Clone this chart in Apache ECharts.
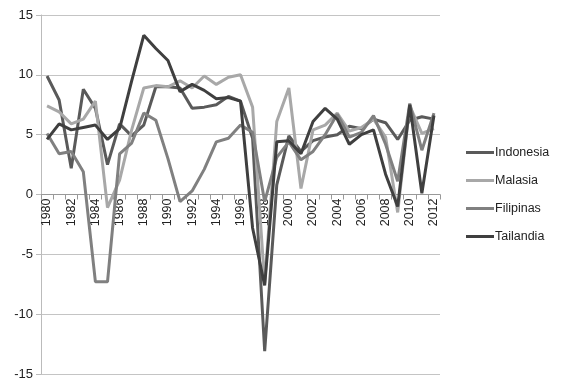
<!DOCTYPE html>
<html><head><meta charset="utf-8">
<script src="https://cdn.jsdelivr.net/npm/echarts@6/dist/echarts.min.js"></script>
<style>html,body{margin:0;padding:0;background:#fff}#c{width:571px;height:392px}</style>
</head><body><div id="c"></div>
<script>
var years = [];
for (var y = 1980; y <= 2012; y++) years.push(String(y));
var seriesNames = ['Indonesia', 'Malasia', 'Filipinas', 'Tailandia'];
var indonesia = [9.9, 7.9, 2.2, 8.8, 7.2, 2.5, 5.9, 4.9, 5.8, 9.0, 9.0, 8.9, 7.2, 7.3, 7.5, 8.2, 7.8, 4.7, -13.1, 0.8, 4.9, 3.6, 4.5, 4.8, 5.0, 5.7, 5.5, 6.3, 6.0, 4.6, 6.2, 6.5, 6.3];
var malasia = [7.4, 6.9, 5.9, 6.3, 7.8, -1.1, 1.2, 5.4, 8.9, 9.1, 9.0, 9.5, 8.9, 9.9, 9.2, 9.8, 10.0, 7.3, -7.4, 6.1, 8.9, 0.5, 5.4, 5.8, 6.8, 5.3, 5.6, 6.3, 4.8, -1.5, 7.4, 5.1, 5.5];
var filipinas = [5.1, 3.4, 3.6, 1.9, -7.3, -7.3, 3.4, 4.3, 6.8, 6.2, 3.0, -0.6, 0.3, 2.1, 4.4, 4.7, 5.8, 5.2, -0.6, 3.1, 4.4, 2.9, 3.6, 5.0, 6.7, 4.8, 5.2, 6.6, 4.2, 1.1, 7.6, 3.7, 6.8];
var tailandia = [4.6, 5.9, 5.4, 5.6, 5.8, 4.6, 5.5, 9.5, 13.3, 12.2, 11.2, 8.6, 9.2, 8.7, 8.0, 8.1, 7.8, -2.8, -7.6, 4.4, 4.5, 3.4, 6.1, 7.2, 6.3, 4.2, 5.0, 5.4, 1.7, -1.0, 7.5, 0.1, 6.6];
var colors = ['#5a5a5a', '#a8a8a8', '#808080', '#3f3f3f'];
var yTicks = {min: -15, max: 15, interval: 5};

var dataArr = [indonesia, malasia, filipinas, tailandia];
var chart = echarts.init(document.getElementById('c'), null, {renderer: 'canvas'});
var font = 'Liberation Sans';
var gridTop = 15, gridBottom = 18, H = 392;
var gridH = H - gridTop - gridBottom;
var zeroOffset = -gridH * (0 - yTicks.min) / (yTicks.max - yTicks.min);
chart.setOption({
  animation: false,
  grid: {left: 41, right: 131, top: gridTop, bottom: gridBottom, containLabel: false, outerBoundsMode: 'none'},
  legend: {
    orient: 'vertical', left: 461, top: 141, itemGap: 15,
    itemWidth: 28, itemHeight: 3, icon: 'rect',
    textStyle: {fontFamily: font, fontSize: 12.5, color: '#222', padding: [0,0,0,-4]},
    data: seriesNames
  },
  xAxis: {
    type: 'category', data: years, boundaryGap: true,
    offset: zeroOffset,
    axisLine: {onZero: false, lineStyle: {color: '#999', width: 1}},
    axisTick: {show: true, length: 5, interval: 0, lineStyle: {color: '#999'}},
    axisLabel: {interval: 1, rotate: 90, fontFamily: font, fontSize: 12.5, color: '#222', margin: 4},
    splitLine: {show: false}
  },
  yAxis: {
    type: 'value', min: yTicks.min, max: yTicks.max, interval: yTicks.interval,
    axisLine: {show: true, lineStyle: {color: '#bbb'}},
    axisTick: {show: true, length: 5, lineStyle: {color: '#bbb'}},
    axisLabel: {fontFamily: font, fontSize: 13, color: '#222', margin: 8},
    splitLine: {show: true, lineStyle: {color: '#c4c4c4', width: 1}}
  },
  series: seriesNames.map(function (n, i) {
    return {
      name: n, type: 'line', data: dataArr[i], symbol: 'none',
      lineStyle: {color: colors[i], width: 3}, itemStyle: {color: colors[i]}
    };
  })
});
</script></body></html>
